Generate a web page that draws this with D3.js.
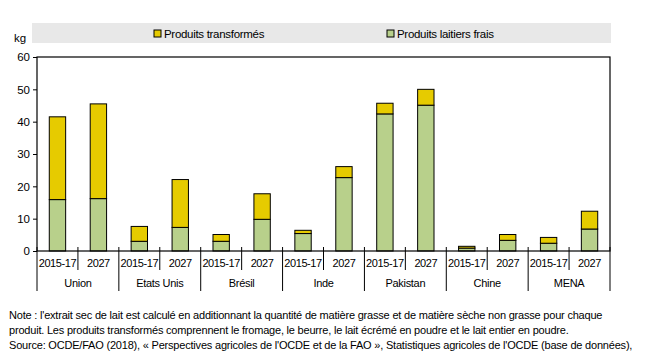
<!DOCTYPE html>
<html>
<head>
<meta charset="utf-8">
<script src="https://cdn.jsdelivr.net/npm/d3@7"></script>
<style>
  body { margin: 0; background: #fff; }
  svg text { font-family: "Liberation Sans", Arial, sans-serif; fill: #000; }
</style>
</head>
<body>
<div id="wrapper"></div>
<script>
// data
const groups = ["Union", "Etats Unis", "Brésil", "Inde", "Pakistan", "Chine", "MENA"]
const periods = ["2015-17", "2027"]
const frais = [15.9, 16.2, 3.0, 7.3, 3.0, 9.8, 5.4, 22.7, 42.4, 45.1, 0.9, 3.3, 2.4, 6.8]
const transformes = [25.6, 29.3, 4.6, 14.8, 2.1, 7.9, 1.0, 3.4, 3.3, 4.9, 0.55, 1.8, 1.8, 5.5]
const yTicks = [0, 10, 20, 30, 40, 50, 60]
const seriesNames = { transformes: "Produits transformés", frais: "Produits laitiers frais" }
const noteLines = [
  "Note : l'extrait sec de lait est calculé en additionnant la quantité de matière grasse et de matière sèche non grasse pour chaque",
  "produit. Les produits transformés comprennent le fromage, le beurre, le lait écrémé en poudre et le lait entier en poudre.",
  "Source: OCDE/FAO (2018), « Perspectives agricoles de l'OCDE et de la FAO », Statistiques agricoles de l'OCDE (base de données),"
]

const dataset = []
groups.forEach((g, i) => periods.forEach((p, j) => {
  const k = i * 2 + j
  dataset.push({ id: g + "|" + p, group: g, period: p, frais: frais[k], transformes: transformes[k] })
}))

const colors = { frais: "#b8d08b", transformes: "#e6cb00" }

// dimensions
const width = 649, height = 363
const plot = { left: 37, right: 610, top: 57, bottom: 251 }

const svg = d3.select("#wrapper").append("svg")
  .attr("width", width)
  .attr("height", height)

// scales
const xScale = d3.scaleBand()
  .domain(dataset.map(d => d.id))
  .range([plot.left, plot.right])
  .paddingInner(0.6)
  .paddingOuter(0.3)

const yScale = d3.scaleLinear()
  .domain([0, 60])
  .range([plot.bottom, plot.top])

// legend band
svg.append("rect")
  .attr("x", 32).attr("y", 23)
  .attr("width", 579).attr("height", 20)
  .attr("fill", "#e8e8e8")

const legendItems = [
  { key: "transformes", x: 154 },
  { key: "frais", x: 387 }
]
const legend = svg.selectAll(".legend")
  .data(legendItems)
  .join("g")
  .attr("transform", d => `translate(${d.x},30)`)
legend.append("rect")
  .attr("width", 7).attr("height", 7)
  .attr("fill", d => colors[d.key])
  .attr("stroke", "#000").attr("stroke-width", 1)
legend.append("text")
  .attr("x", 10).attr("y", 7.5)
  .style("font-size", "11.5px")
  .style("letter-spacing", "-0.3px")
  .text(d => seriesNames[d.key])

svg.append("text")
  .attr("x", 14).attr("y", 42)
  .style("font-size", "11.5px")
  .text("kg")

// bars
const layers = d3.stack().keys(["frais", "transformes"])(dataset)
svg.append("g").selectAll("g")
  .data(layers)
  .join("g")
  .attr("fill", layer => colors[layer.key])
  .selectAll("rect")
  .data(layer => layer)
  .join("rect")
  .attr("x", s => xScale(s.data.id))
  .attr("width", xScale.bandwidth())
  .attr("y", s => yScale(s[1]))
  .attr("height", s => yScale(s[0]) - yScale(s[1]))
  .attr("stroke", "#000")
  .attr("stroke-width", 1)

// frame
svg.append("rect")
  .attr("x", plot.left).attr("y", plot.top)
  .attr("width", plot.right - plot.left)
  .attr("height", plot.bottom - plot.top)
  .attr("fill", "none")
  .attr("stroke", "#000")
  .attr("stroke-width", 1.2)

// y axis
const yAxis = svg.append("g")
  .attr("transform", `translate(${plot.left},0)`)
  .call(d3.axisLeft(yScale).tickValues(yTicks).tickSize(4).tickPadding(3))
yAxis.select(".domain").remove()
yAxis.selectAll("line").attr("stroke", "#000")
yAxis.selectAll("text")
  .style("font-size", "11.5px")
  .attr("fill", "#000")

// x axis: period labels and separators
const step = xScale.step()
const slotLeft = id => xScale(id) - xScale.bandwidth() * 0 - (step - xScale.bandwidth()) / 2
svg.append("g").selectAll("text")
  .data(dataset)
  .join("text")
  .attr("x", d => xScale(d.id) + xScale.bandwidth() / 2)
  .attr("y", 267)
  .attr("text-anchor", "middle")
  .style("font-size", "11px")
  .style("letter-spacing", "-0.4px")
  .text(d => d.period)

// short ticks between periods
svg.append("g").selectAll("line")
  .data(dataset.filter(d => d.period === periods[1]))
  .join("line")
  .attr("x1", d => slotLeft(d.id)).attr("x2", d => slotLeft(d.id))
  .attr("y1", 247).attr("y2", 270)
  .attr("stroke", "#000")

// long ticks between groups
const groupEdges = dataset.filter(d => d.period === periods[0]).map(d => slotLeft(d.id))
groupEdges.push(plot.right)
svg.append("g").selectAll("line")
  .data(groupEdges)
  .join("line")
  .attr("x1", d => d).attr("x2", d => d)
  .attr("y1", 247).attr("y2", 291)
  .attr("stroke", "#000")

// group labels
svg.append("g").selectAll("text")
  .data(groups)
  .join("text")
  .attr("x", (g, i) => (groupEdges[i] + groupEdges[i + 1]) / 2)
  .attr("y", 287)
  .attr("text-anchor", "middle")
  .style("font-size", "11px")
  .style("letter-spacing", "-0.3px")
  .text(g => g)

// note
svg.append("g").selectAll("text")
  .data(noteLines)
  .join("text")
  .attr("x", 9)
  .attr("y", (d, i) => 319 + i * 15)
  .style("font-size", "11px")
  .style("letter-spacing", "-0.2px")
  .text(d => d)
</script>
</body>
</html>
